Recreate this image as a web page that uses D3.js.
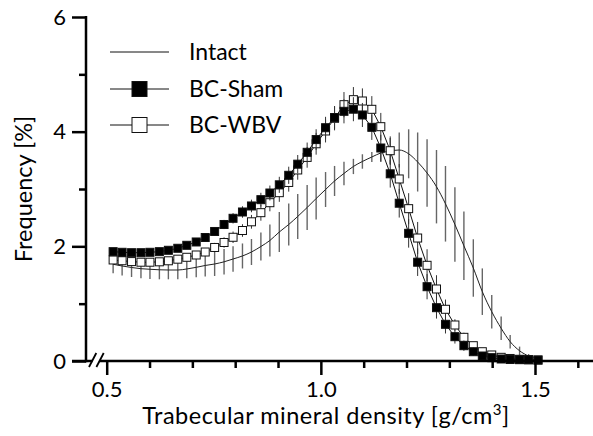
<!DOCTYPE html>
<html>
<meta charset="utf-8">
<head>
    <title>Trabecular mineral density distribution</title>
</head>

<style>
    body { margin: 0; background: #fff; }
    #chart svg { display: block; }
    #chart text { font-family: Lato, "Noto Sans", sans-serif; fill: #000; }
</style>

<script src="https://d3js.org/d3.v7.min.js"></script>

<body>
<div id="chart"></div>

<script>

// bin centres [g/cm3]
var density = [0.515,0.536,0.558,0.580,0.601,0.623,0.644,0.666,0.687,0.709,
               0.730,0.752,0.774,0.795,0.817,0.838,0.860,0.881,0.903,0.925,
               0.946,0.968,0.989,1.011,1.032,1.054,1.076,1.097,1.119,1.140,
               1.162,1.183,1.205,1.226,1.248,1.270,1.291,1.313,1.334,1.356,
               1.377,1.399,1.421,1.442,1.464,1.485,1.507]

// frequency [%], mean and SD per group
var intact = [1.687,1.657,1.631,1.610,1.600,1.591,1.587,1.587,1.605,1.634,
              1.666,1.692,1.730,1.779,1.832,1.901,1.997,2.102,2.250,2.381,
              2.521,2.677,2.834,2.991,3.140,3.271,3.393,3.480,3.558,3.628,
              3.663,3.680,3.614,3.471,3.279,3.040,2.742,2.381,2.009,1.622,
              1.209,0.860,0.570,0.337,0.178,0.087,0.035]
var intactSD = [0.157,0.165,0.166,0.167,0.169,0.166,0.162,0.162,0.162,0.174,
                0.192,0.209,0.223,0.222,0.218,0.227,0.244,0.279,0.349,0.366,
                0.392,0.392,0.366,0.305,0.262,0.204,0.133,0.126,0.087,0.157,
                0.227,0.305,0.427,0.515,0.588,0.640,0.659,0.649,0.597,0.501,
                0.406,0.291,0.204,0.117,0.073,0.035,0.017]

var sham = [1.907,1.896,1.889,1.889,1.896,1.907,1.931,1.966,2.018,2.076,
            2.154,2.259,2.381,2.489,2.599,2.704,2.814,2.930,3.073,3.239,
            3.433,3.640,3.862,4.069,4.247,4.355,4.392,4.291,4.076,3.715,
            3.265,2.752,2.227,1.723,1.296,0.930,0.640,0.424,0.267,0.162,
            0.087,0.058,0.035,0.026,0.023,0.021,0.017]
var shamSD = [0.05,0.05,0.05,0.05,0.05,0.05,0.05,0.05,0.06,0.06,
              0.07,0.07,0.08,0.09,0.10,0.11,0.12,0.13,0.14,0.15,
              0.16,0.17,0.18,0.19,0.20,0.21,0.21,0.21,0.22,0.23,
              0.24,0.25,0.25,0.24,0.22,0.19,0.16,0.12,0.09,0.07,
              0.05,0.04,0.03,0.02,0.02,0.01,0.01]

var wbv = [1.762,1.749,1.734,1.723,1.723,1.730,1.748,1.776,1.809,1.849,
           1.901,1.980,2.067,2.158,2.276,2.428,2.587,2.761,2.936,3.114,
           3.332,3.551,3.789,4.012,4.233,4.471,4.558,4.535,4.390,4.087,
           3.668,3.175,2.657,2.145,1.669,1.256,0.902,0.628,0.413,0.267,
           0.162,0.105,0.064,0.044,0.030,0.023,0.017]
var wbvSD = [0.05,0.05,0.05,0.05,0.05,0.05,0.05,0.05,0.06,0.06,
             0.07,0.08,0.09,0.10,0.11,0.12,0.14,0.15,0.16,0.16,
             0.17,0.18,0.19,0.20,0.21,0.22,0.22,0.22,0.23,0.24,
             0.25,0.26,0.27,0.28,0.28,0.24,0.17,0.10,0.08,0.06,
             0.05,0.04,0.03,0.02,0.02,0.01,0.01]

var groups = ["Intact", "BC-Sham", "BC-WBV"]
var yMajor = [0, 2, 4, 6]
var yMinor = [1, 3, 5]
var xMajor = [0.5, 1.0, 1.5]
var xMinor = [0.6, 0.7, 0.8, 0.9, 1.1, 1.2, 1.3, 1.4, 1.6]

var width = 593, height = 436

var svg = d3.select("#chart")
  .append("svg")
  .attr("width", width)
  .attr("height", height)

var x = d3.scaleLinear().domain([0.5, 1.5]).range([106.7, 535])
var y = d3.scaleLinear().domain([0, 6]).range([361, 17])
var axisX = 86     // where the y axis sits
var axisW = 2.5

// build row objects
function rows(mean, sd) {
  return density.map(function(d, i) { return {x: d, m: mean[i], sd: sd[i]} })
}
var intactRows = rows(intact, intactSD)
var shamRows = rows(sham, shamSD)
var wbvRows = rows(wbv, wbvSD)

// ---- Intact: error bars + smooth line
svg.append("g").selectAll("line")
  .data(intactRows).enter()
  .append("line")
  .attr("x1", function(d) { return x(d.x) })
  .attr("x2", function(d) { return x(d.x) })
  .attr("y1", function(d) { return y(d.m + d.sd) })
  .attr("y2", function(d) { return y(Math.max(0, d.m - d.sd)) })
  .style("stroke", "#666")
  .style("stroke-width", 1.4)

svg.append("path")
  .datum(intactRows)
  .attr("d", d3.line().curve(d3.curveMonotoneX)
    .x(function(d) { return x(d.x) })
    .y(function(d) { return y(d.m) }))
  .style("fill", "none")
  .style("stroke", "#222")
  .style("stroke-width", 1)

// ---- BC groups: line, error bars, square markers
function drawGroup(data, fill) {
  var g = svg.append("g")
  g.append("path")
    .datum(data)
    .attr("d", d3.line()
      .x(function(d) { return x(d.x) })
      .y(function(d) { return y(d.m) }))
    .style("fill", "none")
    .style("stroke", "#111")
    .style("stroke-width", 1)
  g.selectAll("line.eb")
    .data(data).enter()
    .append("line")
    .attr("class", "eb")
    .attr("x1", function(d) { return x(d.x) })
    .attr("x2", function(d) { return x(d.x) })
    .attr("y1", function(d) { return y(d.m + d.sd) })
    .attr("y2", function(d) { return y(Math.max(0, d.m - d.sd)) })
    .style("stroke", "#333")
    .style("stroke-width", 1)
  var s = 8
  g.selectAll("rect")
    .data(data).enter()
    .append("rect")
    .attr("x", function(d) { return x(d.x) - s / 2 })
    .attr("y", function(d) { return y(d.m) - s / 2 })
    .attr("width", s)
    .attr("height", s)
    .style("fill", fill)
    .style("stroke", "#111")
    .style("stroke-width", 1)
}
drawGroup(wbvRows, "#fff")
drawGroup(shamRows, "#000")

// ---- Y axis
var yAxis = svg.append("g").attr("transform", "translate(" + axisX + ",0)")
yAxis.call(d3.axisLeft(y).tickValues(yMajor).tickSize(14).tickSizeOuter(0).tickPadding(6)
  .tickFormat(d3.format("d")))
yAxis.append("g").call(d3.axisLeft(y).tickValues(yMinor).tickSize(7).tickFormat(""))
yAxis.selectAll(".domain").remove()
yAxis.append("line")
  .attr("x1", 0).attr("x2", 0)
  .attr("y1", y(6) - 1).attr("y2", y(0) + axisW / 2)
  .style("stroke", "#000").style("stroke-width", axisW)
yAxis.selectAll(".tick line").style("stroke", "#000").style("stroke-width", axisW)
yAxis.selectAll(".tick text").style("font-size", "22px")

// ---- X axis with break
var xAxis = svg.append("g").attr("transform", "translate(0," + y(0) + ")")
xAxis.call(d3.axisBottom(x).tickValues(xMajor).tickSize(14).tickSizeOuter(0).tickPadding(6)
  .tickFormat(d3.format(".1f")))
xAxis.append("g").call(d3.axisBottom(x).tickValues(xMinor).tickSize(7).tickFormat(""))
xAxis.selectAll(".domain").remove()
xAxis.selectAll(".tick line").style("stroke", "#000").style("stroke-width", axisW)
xAxis.selectAll(".tick text").style("font-size", "22px")

var breakL = 92.3, breakR = 99.7
xAxis.append("line")
  .attr("x1", axisX - 14).attr("x2", breakL)
  .attr("y1", 0).attr("y2", 0)
  .style("stroke", "#000").style("stroke-width", axisW)
xAxis.append("line")
  .attr("x1", breakR).attr("x2", width)
  .attr("y1", 0).attr("y2", 0)
  .style("stroke", "#000").style("stroke-width", axisW)
xAxis.selectAll("line.brk")
  .data([breakL, breakR]).enter()
  .append("line")
  .attr("class", "brk")
  .attr("x1", function(d) { return d - 3.3 })
  .attr("x2", function(d) { return d + 4 })
  .attr("y1", 6)
  .attr("y2", -8)
  .style("stroke", "#000").style("stroke-width", 1.8)

// ---- axis titles
var xt = svg.append("text")
  .attr("x", 326)
  .attr("y", 424)
  .style("text-anchor", "middle")
  .style("font-size", "23.5px")
  .style("letter-spacing", "0.5px")
xt.append("tspan").text("Trabecular mineral density [g/cm")
xt.append("tspan").text("3").attr("dy", -9).style("font-size", "15px")
xt.append("tspan").text("]").attr("dy", 9)

svg.append("text")
  .attr("transform", "translate(32,189) rotate(-90)")
  .style("text-anchor", "middle")
  .style("font-size", "23.5px")
  .text("Frequency [%]")

// ---- legend
var legendY = [52, 89, 125]
var leg = svg.append("g")
var items = leg.selectAll("g")
  .data(groups).enter()
  .append("g")
  .attr("transform", function(d, i) { return "translate(110," + legendY[i] + ")" })
items.append("line")
  .attr("x1", 0).attr("x2", 59)
  .style("stroke", "#111").style("stroke-width", 1)
items.filter(function(d, i) { return i > 0 })
  .append("rect")
  .attr("x", 22).attr("y", -7.5)
  .attr("width", 15).attr("height", 15)
  .style("fill", function(d, i) { return i == 0 ? "#000" : "#fff" })
  .style("stroke", "#111")
  .style("stroke-width", 1)
items.append("text")
  .attr("x", 79)
  .attr("dy", "0.35em")
  .style("font-size", "23px")
  .text(function(d) { return d })

</script>
</body>
</html>
